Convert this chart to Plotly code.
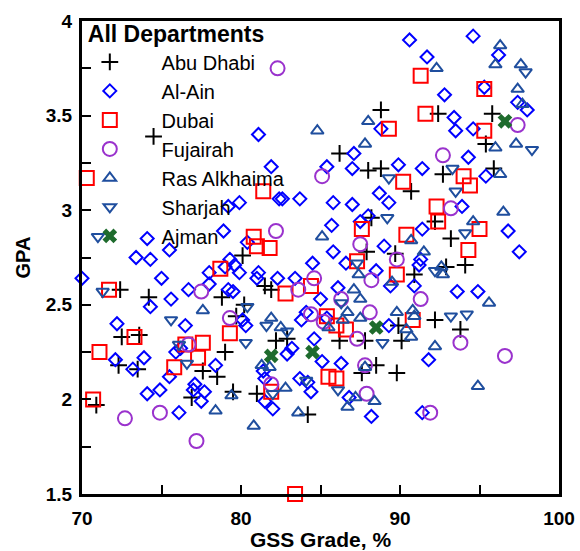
import plotly.graph_objects as go

# GSS grade (%) vs GPA, one series per department
abu_dhabi_x = [88.8, 92.4, 95.8, 95.4, 86.2, 88.0, 88.8, 92.7, 95.9, 90.7, 88.2, 92.2, 93.2, 87.9, 89.7,
               90.9, 92.9, 94.1, 92.2, 89.9, 93.8, 86.2, 87.8, 90.1, 88.5, 87.6, 89.8, 74.5, 80.1, 81.5,
               81.9, 72.4, 74.2, 78.8, 80.2, 79.7, 72.5, 73.6, 72.3, 73.5, 77.6, 78.5, 79.0, 82.2, 82.9,
               70.9, 76.9, 79.5, 81.0, 84.2]
abu_dhabi_y = [3.53, 3.51, 3.51, 3.35, 3.30, 3.21, 3.22, 3.19, 3.22, 3.10, 2.96, 2.94, 2.85, 2.78, 2.77,
               2.66, 2.70, 2.71, 2.42, 2.39, 2.37, 2.31, 2.31, 2.31, 2.18, 2.14, 2.14, 3.39, 2.76, 2.60,
               2.58, 2.58, 2.54, 2.54, 2.50, 2.44, 2.33, 2.34, 2.18, 2.16, 2.15, 2.12, 2.25, 2.31, 2.32,
               1.97, 2.01, 2.04, 2.03, 1.92]

al_ain_x = [90.6, 94.6, 96.2, 91.7, 95.3, 92.8, 97.4, 98.0, 93.4, 93.5, 94.6, 88.8, 87.1, 94.3, 85.4,
            87.0, 89.9, 91.4, 95.4, 83.7, 82.6, 85.8, 87.0, 88.7, 89.3, 93.9, 88.0, 87.5, 85.7, 91.4,
            96.8, 85.8, 86.6, 89.0, 88.5, 89.4, 90.9, 91.3, 91.2, 93.6, 94.9, 84.5, 86.1, 85.0, 84.1,
            85.4, 89.3, 84.6, 85.1, 86.3, 91.8, 84.2, 84.4, 97.5, 81.1, 81.9, 82.4, 78.9, 79.9, 79.2,
            80.4, 74.1, 73.4, 74.3, 75.5, 75.0, 79.3, 79.6, 79.0, 78.0, 79.9, 81.1, 81.0, 82.3, 83.4,
            70.0, 74.3, 75.6, 76.7, 78.0, 79.2, 79.5, 80.1, 80.3, 76.5, 72.2, 72.1, 73.2, 73.9, 76.2,
            75.9, 75.5, 78.4, 77.1, 81.4, 82.9, 81.5, 83.7, 83.8, 83.2, 74.1, 74.9, 76.1, 77.0, 77.5,
            77.7, 81.5, 82.0, 86.8, 88.2, 91.4]
al_ain_y = [3.90, 3.92, 3.82, 3.81, 3.65, 3.61, 3.57, 3.53, 3.49, 3.42, 3.43, 3.43, 3.30, 3.28, 3.23,
            3.22, 3.24, 3.22, 3.18, 3.06, 3.06, 3.04, 3.03, 3.09, 3.04, 3.02, 2.97, 2.94, 2.92, 2.90,
            2.89, 2.78, 2.72, 2.81, 2.68, 2.60, 2.60, 2.74, 2.71, 2.57, 2.57, 2.72, 2.59, 2.53, 2.46,
            2.43, 2.39, 2.32, 2.20, 2.19, 2.21, 2.09, 2.04, 2.78, 3.40, 3.23, 3.06, 2.89, 3.04, 3.02,
            2.83, 2.85, 2.75, 2.74, 2.79, 2.64, 2.74, 2.71, 2.70, 2.67, 2.67, 2.67, 2.64, 2.64, 2.64,
            2.64, 2.49, 2.53, 2.58, 2.61, 2.58, 2.57, 2.42, 2.39, 2.39, 2.40, 2.21, 2.16, 2.22, 2.27,
            2.25, 2.12, 2.18, 2.08, 2.15, 2.24, 2.11, 2.11, 2.42, 2.27, 2.03, 2.05, 1.93, 2.05, 1.99,
            2.04, 1.99, 1.95, 2.01, 1.91, 1.93]

dubai_x = [91.3, 95.3, 91.6, 89.3, 95.3, 94.0, 94.4, 90.2, 92.3, 87.6, 92.4, 95.0, 90.4, 87.3, 89.8,
           94.3, 84.4, 85.4, 86.0, 86.6, 90.8, 85.5, 86.0, 70.3, 81.4, 80.8, 81.0, 81.8, 78.7, 82.8,
           71.7, 73.3, 71.1, 76.5, 77.6, 77.3, 75.8, 79.3, 70.7, 81.9, 83.4]
dubai_y = [3.71, 3.64, 3.51, 3.43, 3.42, 3.18, 3.13, 3.15, 3.02, 2.90, 2.94, 2.90, 2.87, 2.73, 2.66,
           2.79, 2.60, 2.44, 2.39, 2.37, 2.42, 2.12, 2.11, 3.17, 3.10, 2.86, 2.81, 2.80, 2.69, 2.56,
           2.58, 2.33, 2.25, 2.29, 2.30, 2.22, 2.17, 2.35, 2.00, 2.04, 1.50]

fujairah_x = [82.3, 97.4, 92.7, 85.1, 93.2, 82.2, 87.5, 89.8, 88.2, 91.3, 84.6, 86.3, 84.4, 85.2, 87.3,
              88.1, 93.8, 96.6, 87.8, 87.9, 83.6, 77.5, 79.3, 76.7, 81.9, 72.7, 74.9, 77.2, 91.9]
fujairah_y = [3.75, 3.45, 3.29, 3.18, 3.01, 2.89, 2.82, 2.74, 2.63, 2.53, 2.64, 2.53, 2.45, 2.41, 2.32,
              2.46, 2.30, 2.23, 2.18, 2.03, 2.58, 2.57, 2.43, 2.29, 2.08, 1.90, 1.93, 1.78, 1.93]

ras_alkhaima_x = [96.3, 92.3, 96.0, 97.6, 97.4, 97.7, 88.0, 84.8, 96.0, 97.3, 87.8, 96.3, 96.5, 94.6, 85.1,
                  90.7, 91.5, 87.4, 89.5, 92.6, 92.7, 95.6, 87.1, 87.5, 86.7, 85.5, 86.4, 87.5, 89.8, 90.4,
                  90.7, 90.8, 90.9, 92.2, 87.8, 94.9, 77.6, 81.3, 81.9, 82.5, 81.8, 82.8, 78.4, 79.4, 80.8,
                  83.6, 86.7, 87.2, 88.4]
ras_alkhaima_y = [3.87, 3.75, 3.77, 3.77, 3.64, 3.56, 3.47, 3.42, 3.33, 3.35, 3.35, 3.19, 2.99, 2.94, 2.86,
                  2.84, 2.78, 2.66, 2.62, 2.70, 2.66, 2.51, 2.58, 2.53, 2.46, 2.38, 2.42, 2.43, 2.46, 2.37,
                  2.33, 2.47, 2.44, 2.28, 2.17, 2.07, 2.47, 2.18, 2.43, 2.38, 2.17, 2.06, 1.94, 2.02, 1.86,
                  1.93, 1.96, 2.01, 1.99]

sharjah_x = [97.9, 98.3, 89.3, 93.3, 93.5, 89.2, 94.1, 87.3, 92.2, 86.3, 93.2, 94.2, 88.9, 86.1, 71.0,
             71.3, 80.4, 75.6, 76.1, 76.6, 80.3, 81.6, 82.9, 84.1, 82.0]
sharjah_y = [3.73, 3.32, 3.17, 3.22, 3.10, 2.96, 2.88, 2.72, 2.68, 2.51, 2.44, 2.45, 2.30, 2.05, 2.86,
             2.57, 2.49, 2.42, 2.29, 2.19, 2.30, 2.39, 2.36, 2.10, 2.03]

ajman_x = [96.6, 88.5, 84.5, 81.9]
ajman_y = [3.47, 2.38, 2.25, 2.23]

series = [
    ("Abu Dhabi", abu_dhabi_x, abu_dhabi_y, "cross-thin", "#000000", 12, 2),
    ("Al-Ain", al_ain_x, al_ain_y, "diamond-open", "#0000FF", 10, 2),
    ("Dubai", dubai_x, dubai_y, "square-open", "#FF0000", 14, 2),
    ("Fujairah", fujairah_x, fujairah_y, "circle-open", "#9A32CD", 14, 2),
    ("Ras Alkhaima", ras_alkhaima_x, ras_alkhaima_y, "triangle-up-open", "#1F4E9E", 11, 2),
    ("Sharjah", sharjah_x, sharjah_y, "triangle-down-open", "#1F4E9E", 11, 2),
    ("Ajman", ajman_x, ajman_y, "x", "#1E6B2D", 13, 0),
]

# non-breaking spaces open a gap between the legend symbol and its label
LABEL_PAD = "\u00a0" * 5

fig = go.Figure()
for name, xs, ys, sym, col, size, lw in series:
    fig.add_trace(go.Scatter(
        x=xs, y=ys, mode="markers", name=LABEL_PAD + name, cliponaxis=False,
        marker=dict(symbol=sym, size=size, color=col,
                    line=dict(color=col, width=lw)),
    ))

tick_font = dict(family="Arial", size=19, color="#000000", weight="bold")
title_font = dict(family="Arial", size=21, color="#000000", weight="bold")
fig.update_layout(
    width=580, height=551,
    margin=dict(l=82, r=21, t=17, b=57),
    plot_bgcolor="#FFFFFF", paper_bgcolor="#FFFFFF",
    font=dict(family="Arial", color="#000000"),
    showlegend=True,
    legend=dict(
        title=dict(text="<b>All Departments</b>", font=dict(family="Arial", size=23)),
        font=dict(family="Arial", size=20),
        x=0.008, y=1.018, xanchor="left", yanchor="top",
        bgcolor="rgba(0,0,0,0)", borderwidth=0,
        itemwidth=38,
    ),
    xaxis=dict(
        range=[70, 100], dtick=10, tick0=70, automargin=False,
        ticks="inside", ticklen=9, tickwidth=1.5, tickcolor="#000000",
        minor=dict(dtick=5, ticks="inside", ticklen=9, tickwidth=1.5, tickcolor="#000000"),
        showline=True, linewidth=3, linecolor="#000000", mirror=True,
        showgrid=False, zeroline=False,
        tickfont=tick_font, ticklabelstandoff=5,
        title=dict(text="GSS Grade, %", font=title_font, standoff=8),
    ),
    yaxis=dict(
        range=[1.5, 4], dtick=0.5, tick0=1.5, automargin=False,
        ticks="inside", ticklen=9, tickwidth=1.5, tickcolor="#000000",
        minor=dict(dtick=0.25, ticks="inside", ticklen=9, tickwidth=1.5, tickcolor="#000000"),
        showline=True, linewidth=3, linecolor="#000000", mirror=True,
        showgrid=False, zeroline=False,
        tickfont=tick_font, ticklabelstandoff=3,
        title=dict(text="GPA", font=dict(family="Arial", size=20, color="#000000", weight="bold"),
                   standoff=10),
    ),
)

fig.write_html("out.html")
